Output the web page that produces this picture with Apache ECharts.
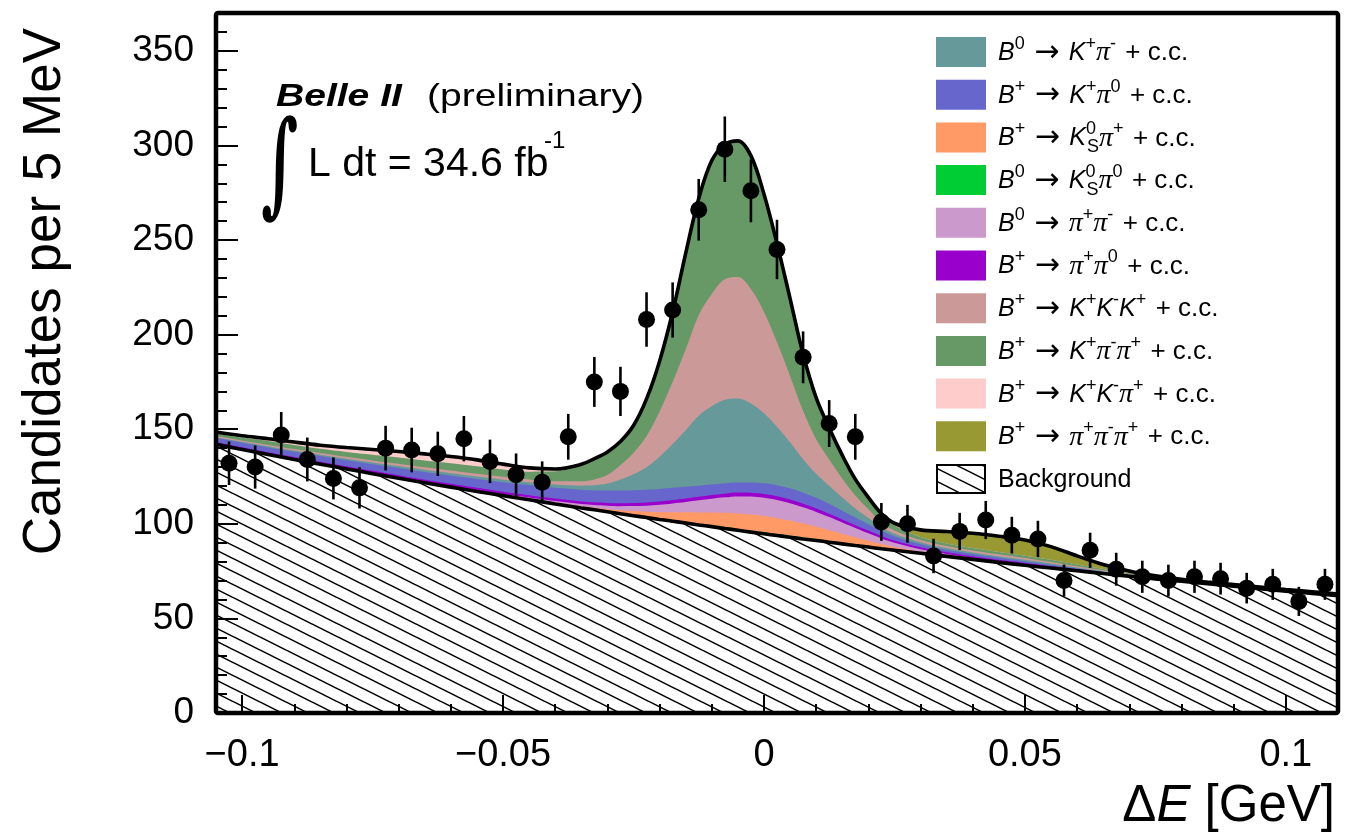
<!DOCTYPE html>
<html>
<head>
<meta charset="utf-8">
<title>Belle II ΔE fit</title>
<script src="https://cdn.jsdelivr.net/npm/echarts@6/dist/echarts.min.js"></script>
<style>
html,body{margin:0;padding:0;background:#ffffff;}
#chart{width:1364px;height:839px;}
</style>
</head>
<body>
<div id="chart"></div>
<script>
// ================= DATA =================
// x positions (GeV) at which the fit components were read
const xGrid = [-0.105,-0.1,-0.095,-0.09,-0.085,-0.08,-0.075,-0.07,-0.065,-0.06,-0.055,-0.05,-0.045,-0.04,
  -0.035,-0.0325,-0.03,-0.0275,-0.025,-0.0225,-0.02,-0.0175,-0.015,-0.0125,-0.01,-0.0075,-0.005,-0.0025,0,0.0025,0.005,0.0075,0.01,0.0125,0.015,0.0175,0.02,0.0225,0.025,
  0.03,0.035,0.04,0.045,0.05,0.055,0.06,0.065,0.07,0.075,0.08,0.085,0.09,0.095,0.1,0.105,0.11];

// fit components (candidates per 5 MeV), listed in stacking order, bottom first
const background = [142.0,139.3,136.6,134.0,131.5,129.0,126.5,124.1,121.7,119.4,117.1,114.9,112.7,110.5,
  108.4,107.4,106.4,105.3,104.3,103.3,102.3,101.4,100.4,99.4,98.5,97.5,96.6,95.6,94.7,93.8,92.9,92.0,91.2,90.3,89.4,88.5,87.7,86.8,86.0,
  84.4,82.8,81.2,79.6,78.1,76.6,75.2,73.7,72.3,70.9,69.6,68.3,67.0,65.7,64.4,63.2,62.0];
const b0KsPi0 = [0.1,0.1,0.1,0.1,0.1,0.1,0.1,0.15,0.15,0.2,0.2,0.2,0.25,0.3,
  0.35,0.4,0.45,0.5,0.55,0.6,0.65,0.7,0.75,0.8,0.8,0.8,0.8,0.8,0.8,0.8,0.8,0.8,0.8,0.75,0.7,0.6,0.5,0.4,0.3,
  0.2,0.15,0.1,0.1,0.1,0.1,0.1,0.1,0.1,0.1,0.1,0.1,0.1,0.1,0.1,0.1,0.1];
const bpKsPip = [0.1,0.1,0.1,0.1,0.1,0.1,0.1,0.1,0.1,0.1,0.1,0.1,0.2,0.3,
  0.5,0.7,1.0,1.4,1.9,2.5,3.2,4.0,4.9,5.8,6.7,7.5,8.1,8.5,8.6,8.4,8.0,7.3,6.5,5.6,4.7,3.8,2.9,2.1,1.5,
  0.7,0.4,0.3,0.2,0.2,0.15,0.1,0.1,0.1,0.1,0.1,0.1,0.1,0.1,0.1,0.1,0.1];
const b0PipPim = [0.2,0.2,0.2,0.2,0.25,0.25,0.3,0.3,0.3,0.3,0.4,0.5,0.7,0.9,
  1.2,1.4,1.7,2.1,2.6,3.2,3.9,4.7,5.5,6.4,7.3,8.2,9.0,9.5,9.7,9.6,9.2,8.6,7.8,6.9,5.9,4.9,3.9,3.0,2.2,
  1.2,0.7,0.5,0.4,0.35,0.3,0.2,0.15,0.1,0.1,0.1,0.1,0.1,0.1,0.1,0.1,0.1];
const bpPipPi0 = [0.7,0.75,0.8,0.85,0.9,0.95,1.0,1.05,1.1,1.15,1.2,1.25,1.3,1.35,
  1.4,1.45,1.5,1.55,1.6,1.65,1.7,1.75,1.8,1.85,1.9,1.95,2.0,2.0,2.0,2.0,1.95,1.9,1.85,1.8,1.6,1.5,1.4,1.3,1.2,
  1.1,0.9,0.8,0.7,0.6,0.5,0.35,0.25,0.15,0.1,0.1,0.1,0.1,0.1,0.1,0.1,0.1];
const bpKpPi0 = [2.2,2.4,2.6,2.8,3.0,3.2,3.5,3.8,4.1,4.4,4.7,5.0,5.3,5.7,
  6.1,6.3,6.5,6.7,6.8,6.8,6.7,6.5,6.2,5.9,5.6,5.4,5.3,5.4,5.6,5.8,5.9,5.8,5.6,5.2,4.6,4.0,3.4,2.8,2.2,
  1.6,1.3,1.1,1.0,0.9,0.7,0.5,0.3,0.2,0.1,0.1,0.1,0.1,0.1,0.1,0.1,0.1];
const b0KpPim = [0.5,0.55,0.6,0.65,0.7,0.8,0.9,1.0,1.1,1.2,1.3,1.4,1.5,1.7,
  2.2,2.7,3.7,5.9,8.4,11.9,17.0,23.1,29.9,37.0,41.3,44.2,44.4,41.8,37.0,30.9,24.3,17.7,12.7,9.6,7.0,4.8,3.3,1.9,1.3,
  1.0,0.9,0.9,0.85,0.8,0.7,0.5,0.35,0.25,0.15,0.1,0.1,0.1,0.1,0.1,0.1,0.1];
const bpKpKmKp = [0.6,0.6,0.7,0.8,0.9,1.0,1.1,1.2,1.3,1.4,1.4,1.5,1.5,1.7,
  2.3,3.1,4.5,7.6,11.3,16.4,23.9,32.8,42.7,53.1,59.4,63.7,64.2,60.5,53.6,44.7,35.1,25.5,18.3,13.8,10.0,6.8,4.6,2.6,1.7,
  1.2,1.1,1.0,1.0,0.9,0.8,0.6,0.45,0.3,0.2,0.1,0.1,0.1,0.1,0.1,0.1,0.1];
const bpKpPimPip = [1.3,1.5,2.1,2.2,2.2,2.6,3.0,3.3,3.6,3.8,4.0,3.9,4.1,5.3,
  8.4,10.6,12.0,12.3,14.4,19.6,26.6,37.0,50.8,61.7,70.5,71.2,72.0,70.5,62.3,52.1,41.0,30.0,21.9,16.7,12.4,8.6,6.0,3.9,2.7,
  1.6,1.4,1.3,1.3,1.2,1.1,0.9,0.7,0.5,0.35,0.25,0.2,0.2,0.2,0.2,0.2,0.2];
const bpKpKmPip = [0.8,1.0,1.2,1.5,1.9,2.3,2.8,3.2,3.5,3.6,3.4,2.8,2.0,1.2,
  0.6,0.4,0.25,0.15,0.1,0.05,0,0,0,0,0,0,0,0,0,0,0,0,0,0,0,0,0,0,0,
  0,0,0,0,0,0,0,0,0,0,0,0,0,0,0,0,0];
const bpPipPimPip = [0,0,0,0,0,0,0,0,0,0,0,0,0,0,
  0,0,0,0,0,0,0,0,0,0,0,0,0,0,0,0,0,0,0,0,0,0.1,0.3,0.6,1.2,
  3.8,6.3,7.8,8.3,8.3,7.0,4.6,2.4,1.0,0.4,0.1,0,0,0,0,0,0];

// data points: bin centres, counts and error bars
const dataX = [-0.1025,-0.0975,-0.0925,-0.0875,-0.0825,-0.0775,-0.0725,-0.0675,-0.0625,-0.0575,-0.0525,-0.0475,-0.0425,-0.0375,
  -0.0325,-0.0275,-0.0225,-0.0175,-0.0125,-0.0075,-0.0025,0.0025,0.0075,0.0125,0.0175,0.0225,0.0275,0.0325,0.0375,0.0425,
  0.0475,0.0525,0.0575,0.0625,0.0675,0.0725,0.0775,0.0825,0.0875,0.0925,0.0975,0.1025,0.1075];
const dataY = [132,130,147,134,124,119,140,139,137,145,133,126,122,146,
  175,170,208,213,266,298,276,245,188,153,146,101,100,83,96,102,
  94,92,70,86,76,72,70,72,71,66,68,59,68];
const dataErr = [11.5,11.4,12.1,11.6,11.1,10.9,11.8,11.8,11.7,12.0,11.5,11.2,11.0,12.1,
  13.2,13.0,14.4,14.6,16.3,17.3,16.6,15.7,13.7,12.4,12.1,10.0,10.0,9.1,9.8,10.1,
  9.7,9.6,8.4,9.3,8.7,8.5,8.4,8.5,8.4,8.1,8.2,7.7,8.2];

// axis ticks and labels
const xTicks = [-0.1,-0.05,0,0.05,0.1];
const xTickLabels = ['\u22120.1','\u22120.05','0','0.05','0.1'];
const xMinorTicks = [-0.1,-0.09,-0.08,-0.07,-0.06,-0.05,-0.04,-0.03,-0.02,-0.01,0,0.01,0.02,0.03,0.04,0.05,0.06,0.07,0.08,0.09,0.1];
const yTicks = [0,50,100,150,200,250,300,350];
const yTickLabels = ['0','50','100','150','200','250','300','350'];
const yMinorTicks = [0,10,20,30,40,50,60,70,80,90,100,110,120,130,140,150,160,170,180,190,200,210,220,230,240,250,260,270,280,290,300,310,320,330,340,350,360];

// legend entries (legend order)
const legendNames = ['B0->K+pi- + c.c.','B+->K+pi0 + c.c.','B+->KS0pi+ + c.c.','B0->KS0pi0 + c.c.','B0->pi+pi- + c.c.',
  'B+->pi+pi0 + c.c.','B+->K+K-K+ + c.c.','B+->K+pi-pi+ + c.c.','B+->K+K-pi+ + c.c.','B+->pi+pi-pi+ + c.c.'];
const legendLabels = [
  '{i|B}{sup|0}{sp| }{ar|\u2192}{sp| }{i|K}{sup|+}{p|\u03c0}{sup|-}{sp| }{n|+ c.c.}',
  '{i|B}{sup|+}{sp| }{ar|\u2192}{sp| }{i|K}{sup|+}{p|\u03c0}{sup|0}{sp| }{n|+ c.c.}',
  '{i|B}{sup|+}{sp| }{ar|\u2192}{sp| }{i|K}{supz|0}{sub|S}{p|\u03c0}{sup|+}{sp| }{n|+ c.c.}',
  '{i|B}{sup|0}{sp| }{ar|\u2192}{sp| }{i|K}{supz|0}{sub|S}{p|\u03c0}{sup|0}{sp| }{n|+ c.c.}',
  '{i|B}{sup|0}{sp| }{ar|\u2192}{sp| }{p|\u03c0}{sup|+}{p|\u03c0}{sup|-}{sp| }{n|+ c.c.}',
  '{i|B}{sup|+}{sp| }{ar|\u2192}{sp| }{p|\u03c0}{sup|+}{p|\u03c0}{sup|0}{sp| }{n|+ c.c.}',
  '{i|B}{sup|+}{sp| }{ar|\u2192}{sp| }{i|K}{sup|+}{i|K}{sup|-}{i|K}{sup|+}{sp| }{n|+ c.c.}',
  '{i|B}{sup|+}{sp| }{ar|\u2192}{sp| }{i|K}{sup|+}{p|\u03c0}{sup|-}{p|\u03c0}{sup|+}{sp| }{n|+ c.c.}',
  '{i|B}{sup|+}{sp| }{ar|\u2192}{sp| }{i|K}{sup|+}{i|K}{sup|-}{p|\u03c0}{sup|+}{sp| }{n|+ c.c.}',
  '{i|B}{sup|+}{sp| }{ar|\u2192}{sp| }{p|\u03c0}{sup|+}{p|\u03c0}{sup|-}{p|\u03c0}{sup|+}{sp| }{n|+ c.c.}'
];
const legendColors = ['#669999','#6666cc','#ff9966','#00cc33','#cc99cc','#9900cc','#cc9999','#669966','#ffcccc','#999933'];

// ================= CHART =================
const FONT = '"Liberation Sans", Arial, Helvetica, sans-serif';

// hatch pattern for the background component
const hatch = document.createElement('canvas');
hatch.width = 26; hatch.height = 13;
(function () {
  const g = hatch.getContext('2d');
  g.fillStyle = '#ffffff'; g.fillRect(0, 0, 26, 13);
  g.strokeStyle = '#000000'; g.lineWidth = 1.5;
  [-26, 0, 26].forEach(function (c) {
    g.beginPath(); g.moveTo(c - 26, -13); g.lineTo(c + 52, 26); g.stroke();
  });
})();
const hatchFill = { image: hatch, repeat: 'repeat' };

// components in stacking order (bottom -> top) and their legend colour index
const stackLayers = [background, b0KsPi0, bpKsPip, b0PipPim, bpPipPi0, bpKpPi0, b0KpPim, bpKpKmKp, bpKpPimPip, bpKpKmPip, bpPipPimPip];
const stackNames = ['Background', legendNames[3], legendNames[2], legendNames[4], legendNames[5], legendNames[1], legendNames[0], legendNames[6], legendNames[7], legendNames[8], legendNames[9]];
const stackColorIdx = [-1, 3, 2, 4, 5, 1, 0, 6, 7, 8, 9];

// cumulative sums -> the stacked table drawn below
const cumulative = [];
(function () {
  let run = xGrid.map(function () { return 0; });
  stackLayers.forEach(function (arr) {
    run = run.map(function (v, i) { return v + arr[i]; });
    cumulative.push(run.slice());
  });
})();
function pairs(ys) { return xGrid.map(function (x, i) { return [x, ys[i]]; }); }

const SMOOTH = 0.35;
const series = [];
// draw from the top layer down; each area fills to zero and the lower ones paint over it
for (let k = stackLayers.length - 1; k >= 1; k--) {
  series.push({
    type: 'line', name: stackNames[k], data: pairs(cumulative[k]),
    symbol: 'none', smooth: SMOOTH, z: 2,
    lineStyle: { width: 0 },
    areaStyle: { color: legendColors[stackColorIdx[k]], opacity: 1, origin: 'start' }
  });
}
series.push({
  type: 'line', name: 'Background', data: pairs(cumulative[0]),
  symbol: 'none', smooth: SMOOTH, z: 2,
  lineStyle: { color: '#000', width: 3.6 },
  areaStyle: { color: hatchFill, opacity: 1, origin: 'start' }
});
series.push({
  type: 'line', name: 'Total fit', data: pairs(cumulative[stackLayers.length - 1]),
  symbol: 'none', smooth: SMOOTH, z: 3,
  lineStyle: { color: '#000', width: 3.6 }
});
series.push({
  type: 'custom', name: 'errors', z: 5,
  data: dataX.map(function (x, i) { return [x, dataY[i] - dataErr[i], dataY[i] + dataErr[i]]; }),
  encode: { x: 0, y: [1, 2] },
  renderItem: function (params, api) {
    const p1 = api.coord([api.value(0), api.value(1)]);
    const p2 = api.coord([api.value(0), api.value(2)]);
    return { type: 'line', shape: { x1: p1[0], y1: p1[1], x2: p2[0], y2: p2[1] }, style: { stroke: '#000', lineWidth: 2.6 } };
  }
});
series.push({
  type: 'scatter', name: 'Data', z: 6, symbol: 'circle', symbolSize: 17,
  data: dataX.map(function (x, i) { return [x, dataY[i]]; }),
  itemStyle: { color: '#000', opacity: 1 }
});

function lookup(ticks, labels, v) {
  for (let i = 0; i < ticks.length; i++) if (Math.abs(ticks[i] - v) < 1e-9) return labels[i];
  return '';
}

// ---- graphic: frame, legend, annotations, y title ----
const legendRich = {
  n: { fontSize: 26, fontFamily: FONT, lineHeight: 36, verticalAlign: 'middle' },
  sp: { fontSize: 34, fontFamily: FONT, lineHeight: 36, verticalAlign: 'middle' },
  ar: { fontSize: 30, fontFamily: '"DejaVu Sans", sans-serif', lineHeight: 36, verticalAlign: 'middle' },
  i: { fontSize: 25, fontFamily: FONT, fontStyle: 'italic', lineHeight: 36, verticalAlign: 'middle' },
  p: { fontSize: 28, fontFamily: '"Liberation Serif", "DejaVu Serif", serif', fontStyle: 'italic', lineHeight: 36, verticalAlign: 'middle' },
  sup: { fontSize: 18, fontFamily: FONT, lineHeight: 17, verticalAlign: 'top' },
  supz: { fontSize: 18, fontFamily: FONT, lineHeight: 17, verticalAlign: 'top', width: 1 },
  sub: { fontSize: 18, fontFamily: FONT, lineHeight: 17, verticalAlign: 'bottom' }
};
const graphics = [];
legendLabels.forEach(function (lab, i) {
  const cy = 52 + i * 42.7;
  graphics.push({ type: 'rect', z: 50, silent: true, shape: { x: 936, y: cy - 15, width: 50, height: 30 }, style: { fill: legendColors[i] } });
  graphics.push({ type: 'text', z: 50, silent: true, x: 998, y: cy + 1,
    style: { text: lab, rich: legendRich, fill: '#000', align: 'left', verticalAlign: 'middle', fontSize: 25, fontFamily: FONT } });
});
(function () {
  const cy = 52 + 10 * 42.7;
  graphics.push({ type: 'rect', z: 50, silent: true, shape: { x: 937, y: cy - 14, width: 48, height: 28 }, style: { fill: hatchFill, stroke: '#000', lineWidth: 2 } });
  graphics.push({ type: 'text', z: 50, silent: true, x: 998, y: cy + 1,
    style: { text: 'Background', fill: '#000', align: 'left', verticalAlign: 'middle', fontSize: 25, fontFamily: FONT } });
})();
graphics.push({ type: 'text', z: 50, silent: true, x: 276, y: 97, scaleX: 1.22,
  style: { text: 'Belle II', fill: '#000', fontSize: 32, fontWeight: 'bold', fontStyle: 'italic', fontFamily: FONT, verticalAlign: 'middle' } });
graphics.push({ type: 'text', z: 50, silent: true, x: 427, y: 97, scaleX: 1.22,
  style: { text: '(preliminary)', fill: '#000', fontSize: 32, fontFamily: FONT, verticalAlign: 'middle' } });
graphics.push({ type: 'text', z: 50, silent: true, x: 261, y: 172, scaleX: 0.62, scaleY: 1.1,
  style: { text: '\u222b', fill: '#000', fontSize: 104, fontWeight: 'bold', fontFamily: '"DejaVu Serif", serif', verticalAlign: 'middle' } });
graphics.push({ type: 'text', z: 50, silent: true, x: 308, y: 165,
  style: { text: 'L dt = 34.6 fb', fill: '#000', fontSize: 41, fontFamily: FONT, verticalAlign: 'middle' } });
graphics.push({ type: 'text', z: 50, silent: true, x: 544, y: 141,
  style: { text: '-1', fill: '#000', fontSize: 24, fontFamily: FONT, verticalAlign: 'middle' } });
graphics.push({ type: 'text', z: 50, silent: true, x: 72, y: 28, rotation: Math.PI / 2,
  style: { text: 'Candidates per 5 MeV', fill: '#000', fontSize: 53, fontFamily: FONT, align: 'right', verticalAlign: 'bottom' } });
graphics.push({ type: 'rect', z: 100, silent: true, shape: { x: 216, y: 13, width: 1122, height: 700, r: 2 },
  style: { fill: 'none', stroke: '#000', lineWidth: 4.5 } });

const axisCommon = { type: 'value', z: 10, splitLine: { show: false }, axisLine: { show: false, onZero: false } };

const option = {
  animation: false,
  backgroundColor: '#ffffff',
  textStyle: { fontFamily: FONT },
  grid: { left: 216, top: 13, width: 1122, height: 700, containLabel: false, show: false },
  xAxis: [
    Object.assign({}, axisCommon, {
      min: -0.105, max: 0.11, position: 'bottom',
      axisTick: { show: true, inside: true, length: 18, customValues: xTicks, lineStyle: { color: '#000', width: 2 } },
      axisLabel: { show: true, customValues: xTicks, margin: 24, fontSize: 38, fontFamily: FONT, color: '#000',
        formatter: function (v) { return lookup(xTicks, xTickLabels, v); } },
      name: '{d|\u0394}{e|E}{d| [GeV]}', nameLocation: 'end', nameGap: -3,
      nameTextStyle: { align: 'right', verticalAlign: 'top', padding: [68, 0, 0, 0], color: '#000',
        rich: { d: { fontSize: 51, fontFamily: FONT, color: '#000' }, e: { fontSize: 51, fontFamily: FONT, fontStyle: 'italic', color: '#000' } } }
    }),
    Object.assign({}, axisCommon, {
      min: -0.105, max: 0.11, position: 'bottom',
      axisTick: { show: true, inside: true, length: 9, customValues: xMinorTicks, lineStyle: { color: '#000', width: 2 } },
      axisLabel: { show: false }
    })
  ],
  yAxis: [
    Object.assign({}, axisCommon, {
      min: 0, max: 370, position: 'left',
      axisTick: { show: true, inside: true, length: 22, customValues: yTicks, lineStyle: { color: '#000', width: 2 } },
      axisLabel: { show: true, customValues: yTicks, margin: 22, fontSize: 37, fontFamily: FONT, color: '#000',
        formatter: function (v) { return lookup(yTicks, yTickLabels, v); } }
    }),
    Object.assign({}, axisCommon, {
      min: 0, max: 370, position: 'left',
      axisTick: { show: true, inside: true, length: 11, customValues: yMinorTicks, lineStyle: { color: '#000', width: 2 } },
      axisLabel: { show: false }
    })
  ],
  graphic: { elements: graphics },
  series: series
};

const chart = echarts.init(document.getElementById('chart'), null, { renderer: 'canvas', width: 1364, height: 839 });
chart.setOption(option);
</script>
</body>
</html>
